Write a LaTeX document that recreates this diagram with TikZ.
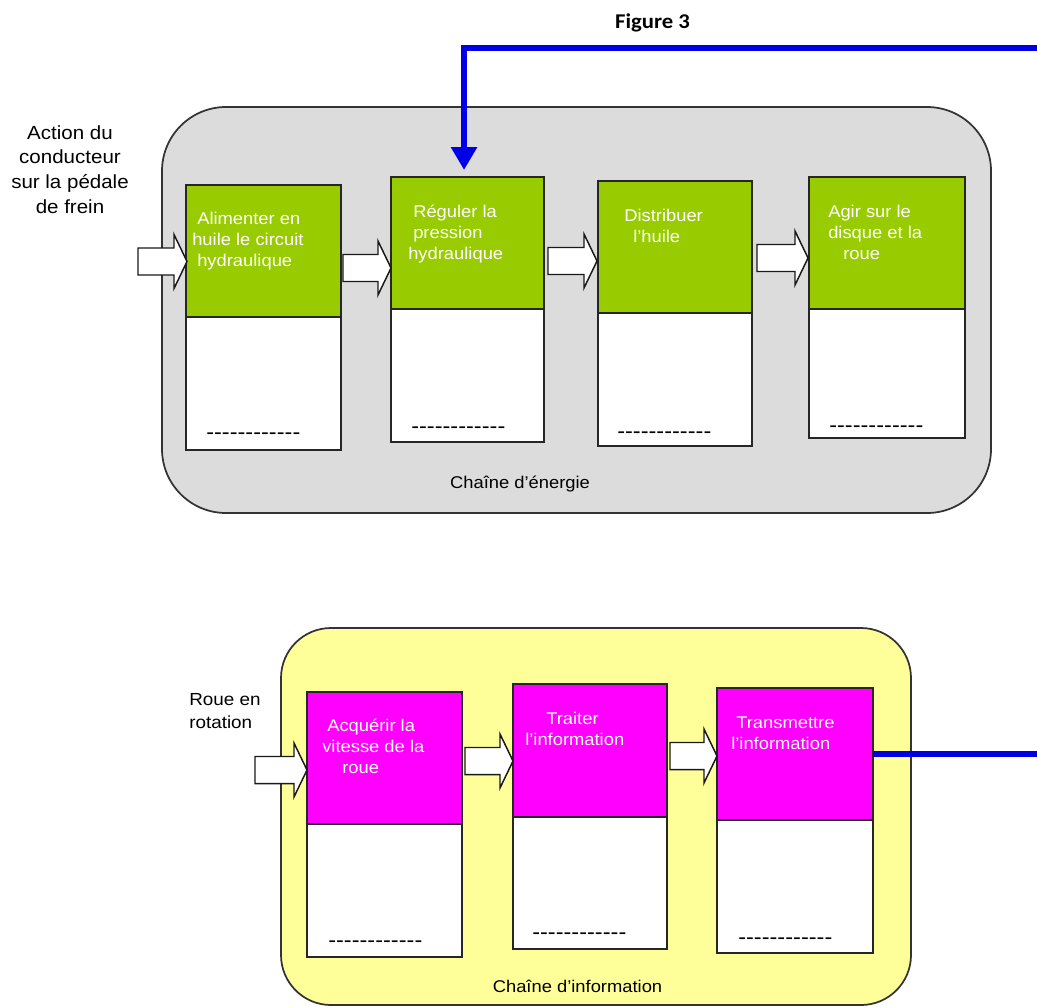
\documentclass[tikz,border=0pt]{standalone}
\usepackage{fontspec}
\setmainfont[FakeStretch=1.08]{Liberation Sans}
\newfontfamily\dashfont[FakeStretch=1.08,Ligatures=ResetAll]{Liberation Sans}
\newfontfamily\titlefont[FakeStretch=1.08]{Carlito}
\usetikzlibrary{arrows.meta}
\definecolor{grayF}{HTML}{DCDCDC}
\definecolor{greenF}{HTML}{99CC00}
\definecolor{magF}{HTML}{FF00FF}
\definecolor{yelF}{HTML}{FFFF99}
\definecolor{blueF}{HTML}{0000E6}
\newdimen\upx \upx=0.75pt
\newcommand\ind[1]{\hspace*{#1\upx}}
\newcommand\lines[1]{\begin{tabular}[t]{@{}l@{}}#1\end{tabular}}
\newcommand\clines[1]{\begin{tabular}[t]{@{}c@{}}#1\end{tabular}}
\newcommand\fblock[7]{%
  \node[#2, anchor=north west, minimum width={(#7-#3)*0.75pt}, minimum height={(#5-#4)*0.75pt}] (#1) at (#3,#4) {};
  \node[wbox, anchor=north west, minimum width={(#7-#3)*0.75pt}, minimum height={(#6-#5)*0.75pt}] (#1w) at (#3,#5) {};}
\newcommand\barrow[3]{% x start, x tip, y centre
  \draw[barr] (#1,#3-13.5) -- (#2-13,#3-13.5) -- (#2-13,#3-27) -- (#2,#3) -- (#2-13,#3+27) -- (#2-13,#3+13.5) -- (#1,#3+13.5) -- cycle;}
\tikzset{
  container/.style={draw=black!80, line width=1.3pt, inner sep=0pt, outer sep=0pt},
  gbox/.style={draw=black!85, line width=1.1pt, fill=greenF, inner sep=0pt, outer sep=0pt},
  mbox/.style={draw=black!85, line width=1.1pt, fill=magF, inner sep=0pt, outer sep=0pt},
  wbox/.style={draw=black!85, line width=1.1pt, fill=white, inner sep=0pt, outer sep=0pt},
  barr/.style={draw=black!90, line width=1.1pt, fill=white, line join=miter},
  btxt/.style={inner sep=0pt, anchor=base west, text=white, font=\fontsize{12.75pt}{15.75pt}\selectfont},
  dtxt/.style={inner sep=0pt, anchor=base west, font=\fontsize{16.35pt}{18pt}\dashfont},
  captxt/.style={inner sep=0pt, anchor=base, font=\fontsize{12.75pt}{15pt}\selectfont},
  bluel/.style={draw=blueF, line width=4.8pt, line join=miter},
}
\begin{document}
\begin{tikzpicture}[x=0.75pt,y=-0.75pt]
\useasboundingbox (0,0) rectangle (1037,1007);
\clip (0,0) rectangle (1037,1007);
% title
\node[inner sep=0pt, anchor=base, font=\fontsize{15.75pt}{18pt}\titlefont\bfseries] (title) at (652.5,28) {Figure 3};
% containers
\node[container, fill=grayF, rounded corners=48pt, anchor=north west, minimum width={829*0.75pt}, minimum height={406*0.75pt}] (energy) at (162,107) {};
\node[container, fill=yelF, rounded corners=37.5pt, anchor=north west, minimum width={630*0.75pt}, minimum height={377*0.75pt}] (info) at (281,628) {};
% energy blocks
\fblock{b1}{gbox}{186}{185}{317}{450}{341}
\fblock{b2}{gbox}{391}{177}{309}{442}{544}
\fblock{b3}{gbox}{598}{181}{313}{446}{752}
\fblock{b4}{gbox}{809}{177}{309}{438}{965}
% information blocks
\fblock{b5}{mbox}{307}{692}{824}{957}{462}
\fblock{b6}{mbox}{513}{684}{817}{949}{667}
\fblock{b7}{mbox}{717}{688}{820}{953}{873}
% block arrows
\barrow{138}{187}{261.5}
\barrow{343}{391}{268}
\barrow{548}{597}{261}
\barrow{757}{808}{258}
\barrow{255}{307}{770}
\barrow{465}{513}{761}
\barrow{670}{717}{756}
% block texts
\node[btxt] (t1) at (192,224) {\lines{\ind{5}Alimenter en\\huile le circuit\\\ind{5}hydraulique}};
\node[btxt] (t2) at (408,217) {\lines{\ind{5}Réguler la\\\ind{5}pression\\hydraulique}};
\node[btxt] (t3) at (624,221) {\lines{Distribuer\\\ind{9}l’huile}};
\node[btxt] (t4) at (828,217) {\lines{Agir sur le\\disque et la\\\ind{15}roue}};
\node[btxt] (t5) at (322,731) {\lines{\ind{5}Acquérir la\\vitesse de la\\\ind{20}roue}};
\node[btxt] (t6) at (525,724) {\lines{\ind{21}Traiter\\l’information}};
\node[btxt] (t7) at (731,728) {\lines{\ind{5}Transmettre\\l’information}};
% dashes
\node[dtxt] (d1) at (206,439.5) {------------};
\node[dtxt] (d2) at (411,433) {------------};
\node[dtxt] (d3) at (617,438) {------------};
\node[dtxt] (d4) at (829,432) {------------};
\node[dtxt] (d5) at (328,947) {------------};
\node[dtxt] (d6) at (532,939) {------------};
\node[dtxt] (d7) at (738,944) {------------};
% captions
\node[captxt] (cap1) at (520,488) {Chaîne d’énergie};
\node[captxt] (cap2) at (577.5,992) {Chaîne d’information};
% outside labels
\node[inner sep=0pt, anchor=base, font=\fontsize{14.25pt}{18.5pt}\selectfont] (act) at (70,139) {\clines{Action du\\conducteur\\sur la pédale\\de frein}};
\node[inner sep=0pt, anchor=base west, font=\fontsize{13.1pt}{17.25pt}\selectfont] (roue) at (189,705) {\lines{Roue en\\rotation}};
% feedback line
\draw[bluel, -{Triangle[width=18.75pt,length=17.25pt]}] (b7.east) -| (1040,48) -| ([xshift=-2.6pt,yshift=5.25pt]b2.north);
\end{tikzpicture}
\end{document}
